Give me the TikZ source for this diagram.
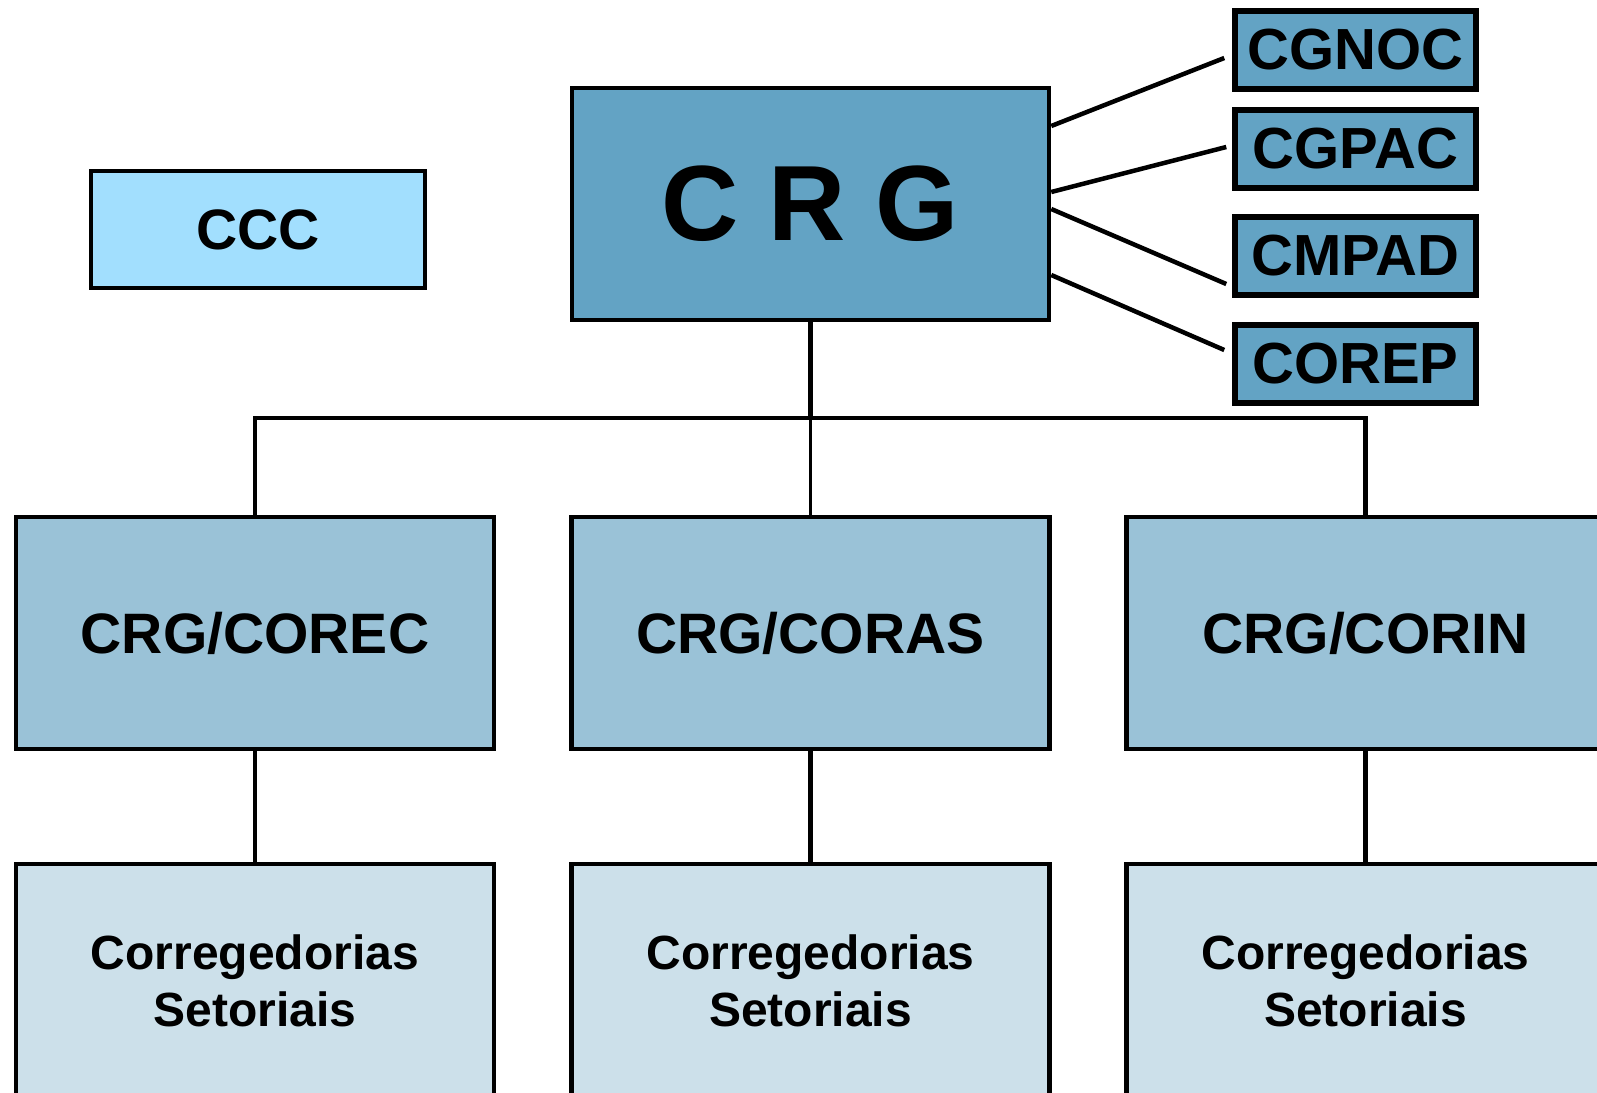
\documentclass[tikz,border=0pt]{standalone}
\usepackage{fontspec}
\setmainfont{Liberation Sans}
\usetikzlibrary{calc}
\definecolor{crgblue}{HTML}{63A3C4}
\definecolor{midblue}{HTML}{9AC2D7}
\definecolor{lowblue}{HTML}{CCE0EA}
\definecolor{cccblue}{HTML}{A2DFFE}
\tikzset{
  box/.style={draw=black, line width=4.5pt, rectangle, inner sep=0pt, align=center, font=\bfseries\fontsize{57}{60}\selectfont},
  smallbox/.style={box, fill=crgblue, line width=5.5pt, minimum width=241pt, minimum height=78pt, font=\bfseries\fontsize{58}{60}\selectfont},
  midbox/.style={box, fill=midblue, minimum width=478pt, minimum height=232pt},
  lowbox/.style={box, fill=lowblue, minimum width=478pt, minimum height=234pt, font=\bfseries\fontsize{48}{57}\selectfont},
  link/.style={line width=4.5pt}
}
\begin{document}
\begin{tikzpicture}[x=1pt,y=-1pt]
\useasboundingbox (0,0) rectangle (1597,1092);
\clip (0,0) rectangle (1597,1092);
\fill[white] (0,0) rectangle (1597,1092);
% top
\node[box, fill=cccblue, minimum width=334pt, minimum height=117pt] (ccc) at (258,229.5) {CCC};
\node[box, fill=crgblue, minimum width=477pt, minimum height=232pt, font=\bfseries\fontsize{107}{110}\selectfont] (crg) at (810.5,204) {C R G};
\node[smallbox] (cgnoc) at (1355.5,50) {CGNOC};
\node[smallbox] (cgpac) at (1355.5,149) {CGPAC};
\node[smallbox] (cmpad) at (1355.5,256) {CMPAD};
\node[smallbox] (corep) at (1355.5,364) {COREP};
% middle
\node[midbox] (corec) at (255,633) {CRG/COREC};
\node[midbox] (coras) at (810.5,633) {CRG/CORAS};
\node[midbox] (corin) at (1365.5,633) {CRG/CORIN};
% bottom
\node[lowbox] (set1) at (255,981) {Corregedorias\\Setoriais};
\node[lowbox] (set2) at (810.5,981) {Corregedorias\\Setoriais};
\node[lowbox] (set3) at (1365.5,981) {Corregedorias\\Setoriais};
% connectors to small boxes
\draw[link] ($(crg.east)+(0,-78)$) -- ($(cgnoc.west)+(-8,8)$);
\draw[link] ($(crg.east)+(0,-12)$) -- ($(cgpac.west)+(-6,-2)$);
\draw[link] ($(crg.east)+(0,5)$) -- ($(cmpad.west)+(-6,28)$);
\draw[link] ($(crg.east)+(0,71)$) -- ($(corep.west)+(-8,-14)$);
% tree
\coordinate (bus) at (810.5,418);
\draw[link] (crg.south) -- (bus);
\draw[link] (corec.north) |- (bus) -| (corin.north);
\draw[line width=3pt] (bus) -- (coras.north);
\draw[link] (corec.south) -- (set1.north);
\draw[link] (coras.south) -- (set2.north);
\draw[link] (corin.south) -- (set3.north);
\end{tikzpicture}
\end{document}
